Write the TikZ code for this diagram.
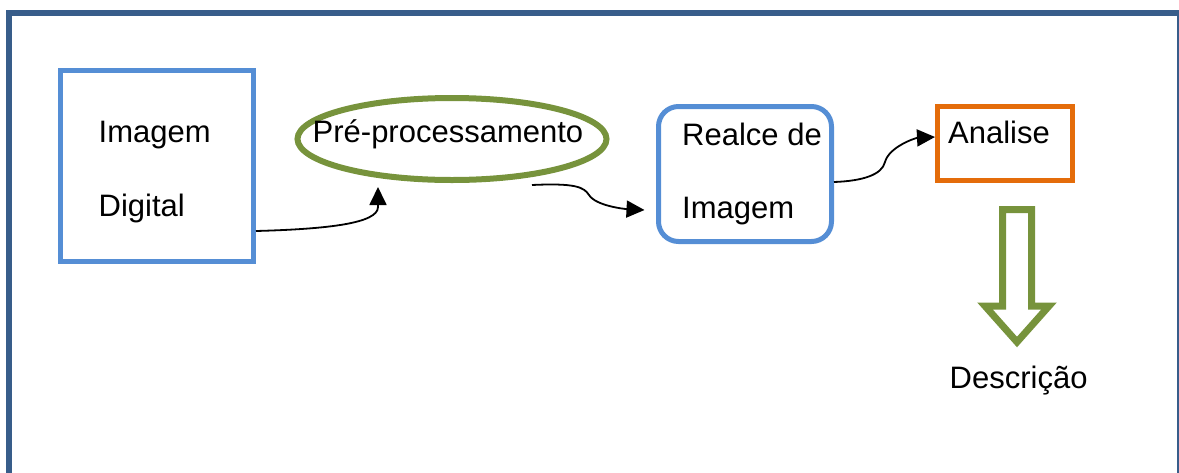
\documentclass[tikz,border=0pt]{standalone}
\usepackage{fontspec}
\setmainfont{Liberation Sans}
\usetikzlibrary{arrows.meta,shapes.geometric}
\definecolor{framec}{HTML}{385D8A}
\definecolor{lblue}{HTML}{558ED5}
\definecolor{olive}{HTML}{77933C}
\definecolor{orng}{HTML}{E46C0A}
\tikzset{
  txt/.style={anchor=base west,inner sep=0pt,font=\fontsize{31}{37}\selectfont},
  sqbox/.style={draw=lblue,line width=5pt,inner sep=0pt,rectangle},
  conn/.style={line width=1.8pt,-{Triangle[length=18pt,width=17pt]}}
}
\begin{document}
\begin{tikzpicture}[x=1pt,y=-1pt]
\useasboundingbox (0,0) rectangle (1179,472);
\clip (0,0) rectangle (1179,472);
\draw[framec,line width=6pt] (9,12.5) rectangle (1179.5,500);
% shapes
\node[sqbox,minimum width=193pt,minimum height=191pt] (img) at (157,166) {};
\node[draw=olive,line width=6pt,ellipse,inner sep=0pt,minimum width=309pt,minimum height=82pt] (pre) at (452,139) {};
\node[sqbox,rounded corners=20pt,minimum width=173pt,minimum height=135pt] (real) at (745,174) {};
\node[draw=orng,line width=5pt,rectangle,inner sep=0pt,minimum width=135pt,minimum height=74pt] (ana) at (1005,143.5) {};
% texts
\node[txt] (t1) at (98.5,142) {Imagem};
\node[txt] (t2) at (98.5,216) {Digital};
\node[txt] (t3) at (312.5,142.5) {Pré-processamento};
\node[txt] (t4) at (682,145) {Realce de};
\node[txt] (t5) at (682,218) {Imagem};
\node[txt] (t6) at (948,143) {Analise};
\node[txt] (t7) at (949.5,388) {Descrição};
% connector endpoints
\coordinate (a1) at ([yshift=-65pt]img.east);
\coordinate (b1) at ([xshift=-74pt,yshift=-4pt]pre.south);
\coordinate (a2) at ([xshift=80pt,yshift=-2pt]pre.south);
\coordinate (b2) at ([xshift=-11.5pt,yshift=-36pt]real.west);
\coordinate (a3) at ([yshift=-8pt]real.east);
\coordinate (b3) at ([yshift=6.5pt]ana.west);
\draw[conn] (a1) .. controls (330,229) and (378,223) .. (378,207) -- (b1);
\draw[conn] (a2) .. controls (575,183) and (584,187) .. (589,195) .. controls (596,206) and (625,209) .. (b2);
\draw[conn] (a3) .. controls (862,181) and (882,175) .. (885,162) .. controls (889,147) and (915,138) .. (b3);
% hollow down arrow
\draw[olive,line width=7pt,line join=miter] (1002.5,209.5) -- (1031.5,209.5) -- (1031.5,306) -- (1049,306) -- (1017,342) -- (985,306) -- (1002.5,306) -- cycle;
\end{tikzpicture}
\end{document}
